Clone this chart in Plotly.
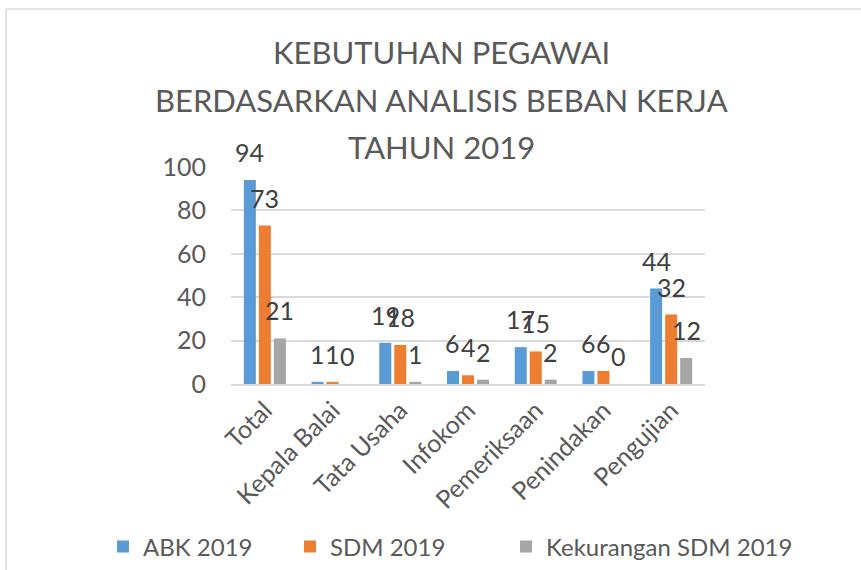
import plotly.graph_objects as go

categories = ["Total", "Kepala Balai", "Tata Usaha", "Infokom", "Pemeriksaan", "Penindakan", "Pengujian"]
abk_2019 = [94, 1, 19, 6, 17, 6, 44]
sdm_2019 = [73, 1, 18, 4, 15, 6, 32]
kekurangan_2019 = [21, 0, 1, 2, 2, 0, 12]
series_names = ["ABK 2019", "SDM 2019", "Kekurangan SDM 2019"]
series_colors = ["#5B9BD5", "#ED7D31", "#A5A5A5"]
title_lines = ["KEBUTUHAN PEGAWAI", "BERDASARKAN ANALISIS BEBAN KERJA", "TAHUN 2019"]
y_ticks = [0, 20, 40, 60, 80, 100]

FONT = "Lato, 'Open Sans', sans-serif"
W, H = 861, 570
ML, MR, MT, MB = 231, 156, 167, 186
plot_w = W - ML - MR
plot_h = H - MT - MB


def px_x(x):
    return (x - ML) / plot_w


def px_y(y):
    return (H - MB - y) / plot_h


fig = go.Figure()
all_series = [abk_2019, sdm_2019, kekurangan_2019]
legend_ids = ["legend", "legend2", "legend3"]
for name, vals, col, lg in zip(series_names, all_series, series_colors, legend_ids):
    fig.add_trace(go.Bar(x=categories, y=vals, name=name, marker_color=col,
                         marker_line_width=0, legend=lg))

# data labels
bargap = 0.335
slot = plot_w / len(categories) * (1 - bargap) / 3
annotations = []
for i, vals in enumerate(all_series):
    for c, v in zip(categories, vals):
        annotations.append(dict(x=c, y=v, xref="x", yref="y", text=str(v),
                                showarrow=False, yanchor="bottom",
                                xshift=(i - 1) * slot, yshift=11,
                                font=dict(family=FONT, size=25, color="#404040")))

# title lines
title_y_px = [52, 100, 147]
for t, ypx in zip(title_lines, title_y_px):
    annotations.append(dict(text=t, x=px_x(441), xref="paper",
                            y=px_y(ypx), yref="paper",
                            showarrow=False, xanchor="center", yanchor="middle",
                            font=dict(family=FONT, size=31, color="#595959")))

shapes = [
    dict(type="line", xref="paper", yref="paper",
         x0=px_x(6), x1=px_x(6), y0=px_y(9), y1=-1.0,
         line=dict(color="#D9D9D9", width=1.5)),
    dict(type="line", xref="paper", yref="paper",
         x0=px_x(6), x1=1.5, y0=px_y(9), y1=px_y(9),
         line=dict(color="#D9D9D9", width=1.5)),
]

legend_font = dict(family=FONT, size=24, color="#595959")
legend_x_px = [103, 290, 506]
legend_layout = {}
for lg, lx in zip(legend_ids, legend_x_px):
    legend_layout[lg] = dict(orientation="h", x=px_x(lx), xanchor="left",
                             y=px_y(547), yanchor="middle", font=legend_font,
                             itemwidth=30, bgcolor="rgba(0,0,0,0)")

fig.update_layout(
    width=W, height=H,
    margin=dict(l=ML, r=MR, t=MT, b=MB, autoexpand=False),
    paper_bgcolor="white", plot_bgcolor="white",
    barmode="group", bargap=bargap, bargroupgap=0.2,
    font=dict(family=FONT, color="#595959"),
    showlegend=True,
    annotations=annotations,
    shapes=shapes,
    **legend_layout,
)
fig.update_xaxes(tickangle=-45, tickfont=dict(family=FONT, size=25, color="#595959"),
                 showline=True, linecolor="#D9D9D9", linewidth=1.5, ticks="")
fig.update_yaxes(range=[0, 100], tickvals=y_ticks, showgrid=True, gridcolor="#D9D9D9",
                 gridwidth=1.5, zeroline=False, showline=False,
                 tickfont=dict(family=FONT, size=25, color="#595959"),
                 ticklabelstandoff=24)

fig.write_html("out.html", config={"displayModeBar": False},
               post_script="document.body.style.margin='0';")
